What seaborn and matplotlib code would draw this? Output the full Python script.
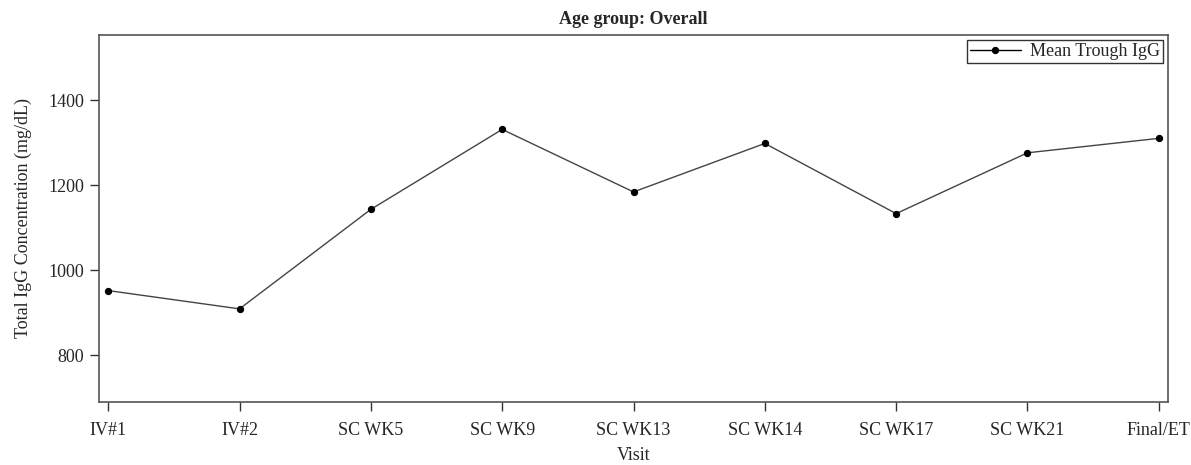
import matplotlib
matplotlib.use("Agg")
import matplotlib.pyplot as plt
import seaborn as sns
import pandas as pd

visits = ["IV#1", "IV#2", "SC WK5", "SC WK9", "SC WK13", "SC WK14", "SC WK17", "SC WK21", "Final/ET"]
mean_trough = [952, 909, 1143, 1331, 1184, 1298, 1133, 1276, 1310]
yticks = [800, 1000, 1200, 1400]

sns.set_theme(style="ticks")
plt.rcParams["font.family"] = ["Liberation Serif", "DejaVu Serif"]

df = pd.DataFrame({"Visit": visits, "IgG": mean_trough})

fig = plt.figure(figsize=(11.91, 4.65), dpi=100)
ax = fig.add_axes([99/1191, 1 - 402/465, (1168-99)/1191, (402-35)/465])

sns.lineplot(data=df, x="Visit", y="IgG", sort=False, ax=ax, color="#444444",
             linewidth=1.0, marker="o", markersize=4.5, markerfacecolor="black",
             markeredgecolor="black", label="Mean Trough IgG")

ax.set_xlim(-0.07, len(visits) - 1 + 0.07)
ax.set_ylim(690, 1553)
ax.set_yticks(yticks)
ax.set_xlabel("Visit", fontsize=13, labelpad=6)
ax.set_ylabel("Total IgG Concentration (mg/dL)", fontsize=13, labelpad=12)
ax.set_title("Age group: Overall", fontsize=13, fontweight="bold", pad=8)
ax.tick_params(axis="both", labelsize=13, length=6.5, width=1, color="#333333", direction="out")
ax.tick_params(axis="x", pad=8)
ax.tick_params(axis="y", pad=4)
for s in ax.spines.values():
    s.set_color("#555555")
    s.set_linewidth(1.2)

leg = ax.legend(loc="upper right", fontsize=13, frameon=True, fancybox=False,
                borderaxespad=0.3, handlelength=2.8, borderpad=0.15, handletextpad=0.5)
leg.get_frame().set_edgecolor("black")
leg.get_frame().set_linewidth(1.0)
for h in leg.get_lines():
    h.set_color("black")

fig.savefig("out.png", dpi=100)
